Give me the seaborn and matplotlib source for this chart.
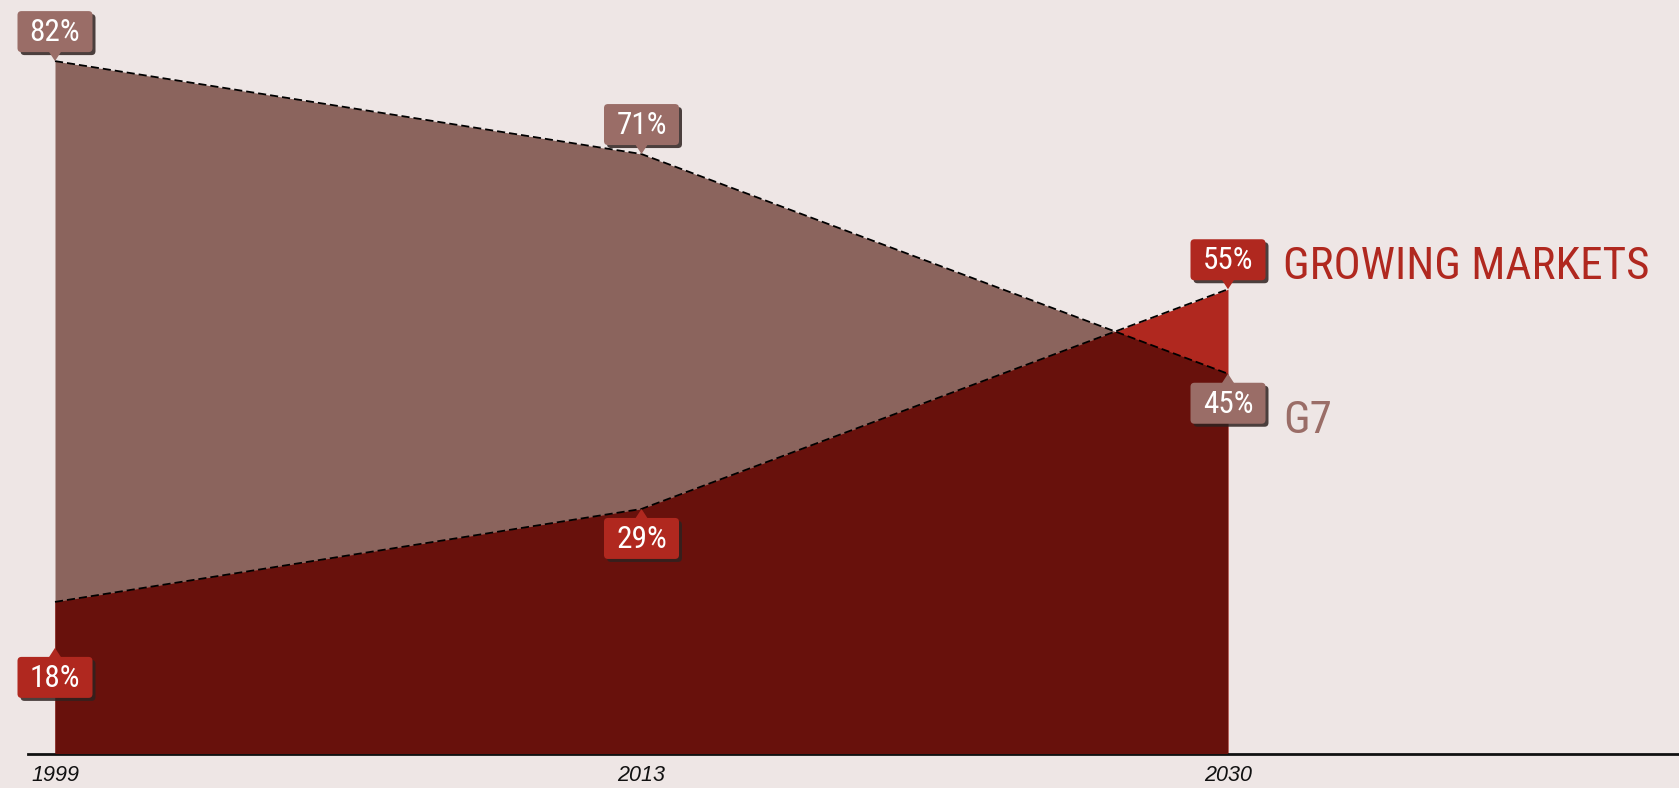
import matplotlib
matplotlib.use("Agg")
import matplotlib.pyplot as plt
import matplotlib.transforms as mtransforms
from matplotlib import font_manager
from matplotlib.patches import FancyBboxPatch, Polygon
import numpy as np
import pandas as pd
import seaborn as sns

# data
years = ["1999", "2013", "2030"]
g7_share = [82, 71, 45]
growing_share = [18, 29, 55]

BG = "#EEE6E5"
G7_AREA = "#8B645D"
G7_LABEL = "#9A6D67"
GM_RED = "#B0281F"
OVERLAP = "#68110C"

sns.set_theme(style="white")

# pick a narrow face if one is installed
faces = {(f.name, f.stretch) for f in font_manager.fontManager.ttflist}
NARROW = dict(family=["Roboto", "DejaVu Sans"], stretch="normal")
for name in ["Liberation Sans Narrow", "Roboto Condensed", "Open Sans Condensed"]:
    if any(n == name for n, _ in faces):
        NARROW = dict(family=[name, "DejaVu Sans"], stretch="normal")
        break
else:
    if ("DejaVu Sans", "condensed") in faces:
        NARROW = dict(family=["DejaVu Sans"], stretch="condensed")
plt.rcParams["font.family"] = NARROW["family"]

fig = plt.figure(figsize=(16.79, 7.88), dpi=100, facecolor=BG)
# axes bottom sits on the baseline (754 px from top)
ax = fig.add_axes([0, (788 - 754) / 788, 1, 754 / 788])
ax.set_facecolor(BG)

x = np.arange(len(years))
g7 = np.array(g7_share, dtype=float)
gm = np.array(growing_share, dtype=float)

px_per_unit = 586.5
ax.set_xlim(-55 / px_per_unit, (1679 - 55) / px_per_unit)
ax.set_ylim(0, 754 / 8.45)

# G7 area, growing markets area on top, overlap in dark red (gm clipped to g7)
g7_area = ax.fill_between(x, 0, g7, color=G7_AREA, lw=0, zorder=1)
ax.fill_between(x, 0, gm, color=GM_RED, lw=0, zorder=2)
overlap = ax.fill_between(x, 0, gm, color=OVERLAP, lw=0, zorder=3)
overlap.set_clip_path(g7_area.get_paths()[0], ax.transData)

df = pd.DataFrame({"x": np.concatenate([x, x]),
                   "share": np.concatenate([g7, gm]),
                   "series": ["G7"] * 3 + ["GROWING MARKETS"] * 3})
sns.lineplot(data=df, x="x", y="share", units="series", estimator=None,
             color="black", lw=1.3, ax=ax, legend=False, zorder=4)
for ln in ax.get_lines():
    ln.set_linestyle((0, (4.5, 2.2)))

# axis styling
for s in ["top", "right", "left"]:
    ax.spines[s].set_visible(False)
ax.spines["bottom"].set_color("#111111")
ax.spines["bottom"].set_linewidth(2.0)
ax.spines["bottom"].set_bounds(-27 / px_per_unit, (1679 - 55) / px_per_unit)
ax.set_xticks(x)
ax.set_xticklabels(years, family=["Liberation Sans", "DejaVu Sans"],
                   style="italic", fontsize=15.5, color="#111111")
ax.tick_params(axis="x", length=0, pad=8)
ax.set_yticks([])
ax.set_xlabel("")
ax.set_ylabel("")

fit_list = []  # (text, max width px)


def callout(xv, yv, text, color, up=True, drop=0.0):
    trans = fig.dpi_scale_trans + mtransforms.ScaledTranslation(xv, yv, ax.transData)
    w, h, gap = 0.75, 0.41, 0.09
    if up:
        y0 = gap
        tri = [(-0.065, gap + 0.01), (0.065, gap + 0.01), (0, 0)]
    else:
        y0 = -drop - gap - h
        tri = [(-0.065, -drop - gap - 0.01), (0.065, -drop - gap - 0.01), (0, -drop)]
    shadow = FancyBboxPatch((-w / 2 + 0.03, y0 - 0.03), w, h,
                            boxstyle="round,pad=0,rounding_size=0.04",
                            transform=trans, fc="#2e2220", ec="none", alpha=0.85,
                            zorder=5, clip_on=False)
    box = FancyBboxPatch((-w / 2, y0), w, h,
                         boxstyle="round,pad=0,rounding_size=0.04",
                         transform=trans, fc=color, ec="none", zorder=6, clip_on=False)
    ax.add_patch(shadow)
    ax.add_patch(box)
    ax.add_patch(Polygon(tri, closed=True, transform=trans, fc=color, ec="none",
                         zorder=6, clip_on=False))
    t = ax.text(0, y0 + 0.11, text, transform=trans, ha="center", va="baseline",
                color="white", fontsize=22.5, fontstretch=NARROW["stretch"], zorder=7)
    fit_list.append((t, 52))


callout(x[0], g7[0], f"{g7_share[0]}%", G7_LABEL, up=True)
callout(x[1], g7[1], f"{g7_share[1]}%", G7_LABEL, up=True)
callout(x[2], gm[2], f"{growing_share[2]}%", GM_RED, up=True)
callout(x[0], gm[0], f"{growing_share[0]}%", GM_RED, up=False, drop=0.46)
callout(x[1], gm[1], f"{growing_share[1]}%", GM_RED, up=False)
callout(x[2], g7[2], f"{g7_share[2]}%", G7_LABEL, up=False)

# series names to the right of 2030
t_gm = fig.dpi_scale_trans + mtransforms.ScaledTranslation(x[2], gm[2], ax.transData)
name_gm = ax.text(0.55, 0.10, "GROWING MARKETS", transform=t_gm, ha="left",
                  va="baseline", color=GM_RED, fontsize=34,
                  fontstretch=NARROW["stretch"])
t_g7 = fig.dpi_scale_trans + mtransforms.ScaledTranslation(x[2], g7[2], ax.transData)
name_g7 = ax.text(0.55, -0.59, "G7", transform=t_g7, ha="left", va="baseline",
                  color=G7_LABEL, fontsize=34, fontstretch=NARROW["stretch"])

# shrink text that is wider than the space the reference gives it
fig.canvas.draw()
renderer = fig.canvas.get_renderer()
for t, max_w in fit_list + [(name_gm, 367)]:
    wpx = t.get_window_extent(renderer).width
    if wpx > max_w:
        t.set_fontsize(t.get_fontsize() * max_w / wpx)
name_g7.set_fontsize(name_gm.get_fontsize())

fig.savefig("out.png", dpi=100, facecolor=BG)
